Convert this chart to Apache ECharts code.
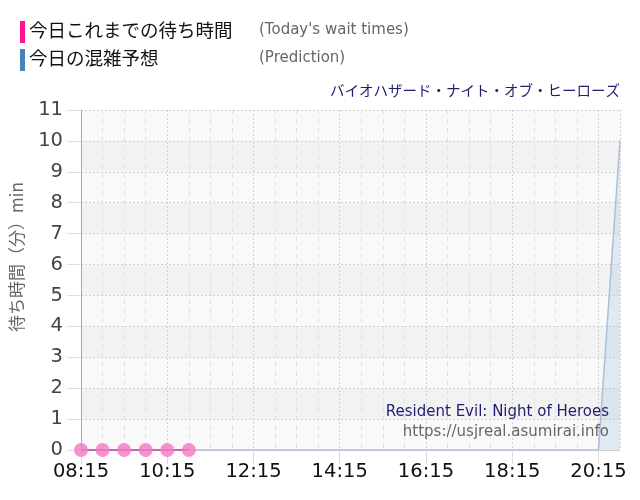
<!DOCTYPE html>
<html>
<head>
<meta charset="utf-8">
<script src="https://cdn.jsdelivr.net/npm/echarts@6/dist/echarts.min.js"></script>
<style>
html,body{margin:0;padding:0;background:#fff;}
#c{width:640px;height:500px;}
</style>
</head>
<body>
<div id="c"></div>
<script>
// ---- data ----
const startTime = '08:15';
const endTime = '20:45';
const xTickLabels = ['08:15','10:15','12:15','14:15','16:15','18:15','20:15'];
const yTickLabels = ['0','1','2','3','4','5','6','7','8','9','10','11'];
const todayTimes = ['08:15','08:45','09:15','09:45','10:15','10:45'];
const todayValues = [0,0,0,0,0,0];
const predTimes = ['08:15','08:45','09:15','09:45','10:15','10:45','11:15','11:45','12:15','12:45','13:15','13:45','14:15','14:45','15:15','15:45','16:15','16:45','17:15','17:45','18:15','18:45','19:15','19:45','20:15','20:45'];
const predValues = [0,0,0,0,0,0,0,0,0,0,0,0,0,0,0,0,0,0,0,0,0,0,0,0,0,10];
const legendNames = ['今日これまでの待ち時間','今日の混雑予想'];
const legendSub = ["(Today's wait times)", '(Prediction)'];
const titleJa = 'バイオハザード・ナイト・オブ・ヒーローズ';
const titleEn = 'Resident Evil: Night of Heroes';
const siteUrl = 'https://usjreal.asumirai.info';
const yAxisName = '待ち時間（分）min';

// ---- helpers ----
function toMin(t){const p=t.split(':');return (+p[0])*60+(+p[1]);}
const base = toMin(startTime);
const span = toMin(endTime) - base;
const pairs = (ts, vs) => ts.map((t,i)=>[toMin(t)-base, vs[i]]);

const jp = '"Noto Sans CJK JP", sans-serif';
const lat = '"DejaVu Sans", Verdana, sans-serif';

const chart = echarts.init(document.getElementById('c'));
chart.setOption({
  animation:false,
  backgroundColor:'#fff',
  grid:{left:80,right:20,top:110,bottom:50,containLabel:false},
  xAxis:{
    type:'value', min:0, max:span, interval:120,
    axisLine:{show:true,lineStyle:{color:'#cfcfcf',width:1}},
    axisTick:{show:true,length:14,lineStyle:{color:'#dcdcdc'}},
    axisLabel:{color:'#111',fontSize:19.5,fontFamily:lat,margin:12,
      formatter:v=>xTickLabels[Math.round(v/120)]||''},
    splitLine:{show:true,lineStyle:{color:'#d0d0d0',type:[2,2],width:1}},
    minorTick:{show:false,splitNumber:4},
    minorSplitLine:{show:true,lineStyle:{color:'#e2e2e2',type:[5,4],width:1}}
  },
  yAxis:{
    type:'value', min:0, max:11, interval:1,
    name:yAxisName, nameLocation:'middle', nameGap:56,
    nameTextStyle:{color:'#666',fontSize:17,fontFamily:jp,padding:[0,0,0,46]},
    axisLine:{show:true,lineStyle:{color:'#aaa',width:1}},
    axisTick:{show:true,length:14,lineStyle:{color:'#e0e0e0'}},
    axisLabel:{color:'#444',fontSize:19.5,fontFamily:lat,margin:18,
      formatter:v=>yTickLabels[v]},
    splitLine:{show:true,lineStyle:{color:'#cfcfcf',type:[2,2],width:1}},
    splitArea:{show:true,areaStyle:{color:['#f9f9f9','#f2f2f2']}}
  },
  series:[
    {
      name:legendNames[1], type:'line', data:pairs(predTimes,predValues),
      symbol:'none', smooth:false,
      lineStyle:{color:'#a8c0da',width:1.5},
      areaStyle:{color:'rgba(170,196,220,0.45)'},
      z:2
    },
    {
      name:legendNames[0], type:'line', data:pairs(todayTimes,todayValues),
      symbol:'circle', symbolSize:14,
      lineStyle:{color:'rgba(200,70,160,0.75)',width:2},
      itemStyle:{color:'rgba(242,120,195,0.8)'},
      z:3
    }
  ],
  graphic:{elements:[
    {type:'rect',z:100,left:20,top:21,shape:{width:5,height:22},style:{fill:'#ff1493'}},
    {type:'rect',z:100,left:20,top:49,shape:{width:5,height:22},style:{fill:'#4682b4'}},
    {type:'text',z:100,left:29,top:21,style:{text:legendNames[0],fill:'#111',font:'18.5px '+jp}},
    {type:'text',z:100,left:29,top:49,style:{text:legendNames[1],fill:'#111',font:'18.5px '+jp}},
    {type:'text',z:100,left:259,top:23,style:{text:legendSub[0],fill:'#666',font:'15px '+lat}},
    {type:'text',z:100,left:259,top:51,style:{text:legendSub[1],fill:'#666',font:'15px '+lat}},
    {type:'text',z:100,right:20,top:83,style:{text:titleJa,fill:'#1f1f6e',font:'14.5px '+jp}},
    {type:'text',z:100,right:31,top:405,style:{text:titleEn,fill:'#1f1f6e',font:'15px '+lat}},
    {type:'text',z:100,right:31,top:425,style:{text:siteUrl,fill:'#666',font:'15px '+lat}}
  ]}
});
</script>
</body>
</html>
